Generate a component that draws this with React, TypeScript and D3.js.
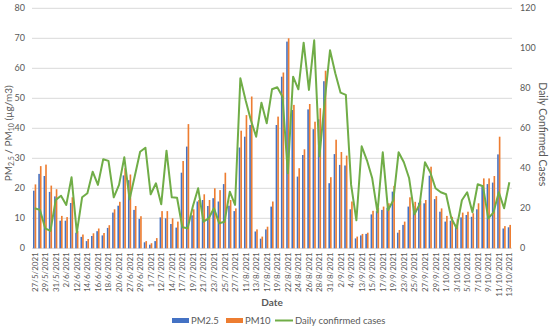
import React from "react";
import * as d3 from "d3";

const dates: string[] = [
  "27/5/2021","28/5/2021","29/5/2021","30/5/2021","31/5/2021","1/6/2021","2/6/2021","11/6/2021",
  "12/6/2021","13/6/2021","14/6/2021","15/6/2021","16/6/2021","17/6/2021","18/6/2021","19/6/2021",
  "20/6/2021","26/6/2021","27/6/2021","28/6/2021","29/6/2021","30/6/2021","1/7/2021","11/7/2021",
  "12/7/2021","13/7/2021","14/7/2021","16/7/2021","17/7/2021","18/7/2021","19/7/2021","20/7/2021",
  "21/7/2021","22/7/2021","23/7/2021","24/7/2021","25/7/2021","26/7/2021","27/7/2021","10/8/2021",
  "11/8/2021","12/8/2021","13/8/2021","16/8/2021","17/8/2021","18/8/2021","19/8/2021","21/8/2021",
  "22/8/2021","23/8/2021","24/8/2021","25/8/2021","26/8/2021","27/8/2021","28/8/2021","30/8/2021",
  "31/8/2021","1/9/2021","2/9/2021","3/9/2021","4/9/2021","12/9/2021","13/9/2021","14/9/2021",
  "15/9/2021","16/9/2021","17/9/2021","18/9/2021","19/9/2021","22/9/2021","23/9/2021","24/9/2021",
  "25/9/2021","26/9/2021","27/9/2021","28/9/2021","29/9/2021","30/9/2021","1/10/2021","2/10/2021",
  "3/10/2021","4/10/2021","5/10/2021","6/10/2021","7/10/2021","8/10/2021","9/10/2021","10/10/2021",
  "11/10/2021","12/10/2021","13/10/2021"
];

const pm25: number[] = [
  19.2,24.8,24.1,18.8,17.3,9.2,9.2,15.1,5.2,3.8,2.4,4.1,5.7,4.3,6.8,11.9,
  14.2,24.3,22.7,12.8,9.8,2.0,1.2,2.4,10.3,10.0,8.1,6.9,25.2,33.9,11.0,15.6,
  16.1,14.1,16.7,15.6,21.4,14.2,12.4,33.6,37.2,41.1,5.6,3.2,6.3,13.9,41.1,57.2,
  68.9,46.1,23.9,31.1,46.3,39.7,43.0,55.7,21.7,31.4,27.8,27.6,13.0,3.3,4.3,4.8,
  11.3,12.4,12.8,13.5,18.9,5.2,7.8,13.9,14.1,15.2,15.0,24.2,16.4,12.2,8.9,9.2,
  7.8,10.3,11.1,10.5,13.0,20.5,21.4,21.9,31.3,6.6,7.0
];

const pm10: number[] = [
  21.3,27.4,27.9,20.9,19.7,10.8,10.4,17.0,5.8,4.6,3.1,5.0,6.6,5.1,7.7,13.0,
  15.5,26.7,24.6,14.1,10.7,2.4,1.7,3.4,12.4,12.4,10.0,8.9,29.1,41.4,13.0,16.1,
  18.0,16.1,20.0,19.4,25.2,16.1,13.3,39.2,44.4,50.6,6.3,3.9,7.2,15.6,43.9,58.6,
  70.0,47.8,26.7,33.0,48.1,42.2,46.7,59.2,23.7,36.2,32.1,30.9,15.6,3.9,4.8,5.2,
  12.5,13.5,13.9,15.0,20.8,6.1,8.9,17.0,15.5,15.8,16.1,27.2,17.4,13.3,10.8,10.5,
  9.7,11.9,12.2,11.7,15.0,23.3,23.3,24.1,37.2,7.4,7.8
];

const cases: number[] = [
  20,19.2,10,8.7,24.2,26.3,21.7,35.5,7.8,25.5,27.5,38.3,31.7,44.5,43.7,25.5,
  31.7,45.5,24.5,36.3,48.3,50.3,27,32.5,22,48.8,25.5,25.3,10.5,10,21,30,
  13.3,15,20,12.5,13.3,28.3,21.7,85,74,64,55.8,72.8,62.5,79.5,80.5,75.8,
  37.5,85.8,79.5,102.8,79.2,104,46,74,99,87.5,77.8,76.7,31.7,14,51,44,
  35,18,48,19,24,48,43,35,17,22,43,38,30,28,27,15,
  10,24,28,18,32,31,15,18,28,20,33
];

const leftTicks: number[] = [0, 10, 20, 30, 40, 50, 60, 70, 80];
const rightTicks: number[] = [0, 20, 40, 60, 80, 100, 120];

const W = 550, H = 329;
const plot = { left: 32, right: 512, top: 8.3, bottom: 248.3 };
const FONT = "Lato, 'Open Sans', sans-serif";
const BLUE = "#4472C4", ORANGE = "#ED7D31", GREEN = "#70AD47";
const TXT = "#595959";

export default function App() {
  const x = d3.scaleBand<string>().domain(dates).range([plot.left, plot.right]).paddingInner(0).paddingOuter(0);
  const y = d3.scaleLinear().domain([0, 80]).range([plot.bottom, plot.top]);
  const y2 = d3.scaleLinear().domain([0, 120]).range([plot.bottom, plot.top]);
  const bw = x.bandwidth();
  const barW = bw * 0.31;
  const inner = d3.scaleBand<string>().domain(["pm25", "pm10"]).range([bw / 2 - barW, bw / 2 + barW]);

  const line = d3.line<number>()
    .x((_, i) => (x(dates[i]) as number) + bw / 2)
    .y((d) => y2(d));

  return (
    <svg width={W} height={H} style={{ position: "absolute", left: 0, top: 0, background: "#fff" }} fontFamily={FONT}>
      {leftTicks.map((t) => (
        <g key={"g" + t}>
          <line x1={plot.left} x2={plot.right} y1={y(t)} y2={y(t)} stroke="#d9d9d9" strokeWidth={1} />
          <text x={25} y={y(t)} dy="0.35em" textAnchor="end" fontSize={9} fill={TXT}>{t}</text>
        </g>
      ))}
      {rightTicks.map((t) => (
        <text key={"r" + t} x={520} y={y2(t)} dy="0.35em" textAnchor="start" fontSize={9} fill={TXT}>{t}</text>
      ))}
      {dates.map((d, i) => (
        <g key={"b" + i} transform={`translate(${x(d)},0)`}>
          <rect x={inner("pm25")} y={y(pm25[i])} width={barW} height={plot.bottom - y(pm25[i])} fill={BLUE} />
          <rect x={inner("pm10")} y={y(pm10[i])} width={barW} height={plot.bottom - y(pm10[i])} fill={ORANGE} />
        </g>
      ))}
      <path d={line(cases) || ""} fill="none" stroke={GREEN} strokeWidth={2} strokeLinejoin="round" />
      {dates.map((d, i) =>
        i % 2 === 0 ? (
          <text key={"x" + i} transform={`translate(${(x(d) as number) + bw / 2 + 3},${plot.bottom + 4}) rotate(-90)`}
            textAnchor="end" fontSize={8} fill={TXT}>{d}</text>
        ) : null
      )}
      <text transform={`translate(12,${(plot.top + plot.bottom) / 2 + 5}) rotate(-90)`} textAnchor="middle" fontSize={10} fill={TXT}>
        PM<tspan fontSize={7} dy={2}>2.5</tspan><tspan dy={-2}> / PM</tspan><tspan fontSize={7} dy={2}>10</tspan><tspan dy={-2}> (µg/m3)</tspan>
      </text>
      <text transform={`translate(539,${(plot.top + plot.bottom) / 2 + 6}) rotate(90)`} textAnchor="middle" fontSize={10.5} fill={TXT}>
        Daily Confirmed Cases
      </text>
      <text x={272} y={306} textAnchor="middle" fontSize={10} fontWeight="bold" fill={TXT}>Date</text>
      <g fontSize={9.5} fill={TXT}>
        <rect x={172} y={318} width={17} height={5} fill={BLUE} />
        <text x={191} y={323.5}>PM2.5</text>
        <rect x={226} y={318} width={17} height={5} fill={ORANGE} />
        <text x={245} y={323.5}>PM10</text>
        <line x1={275} x2={293} y1={320.5} y2={320.5} stroke={GREEN} strokeWidth={2} />
        <text x={295} y={323.5}>Daily confirmed cases</text>
      </g>
    </svg>
  );
}
